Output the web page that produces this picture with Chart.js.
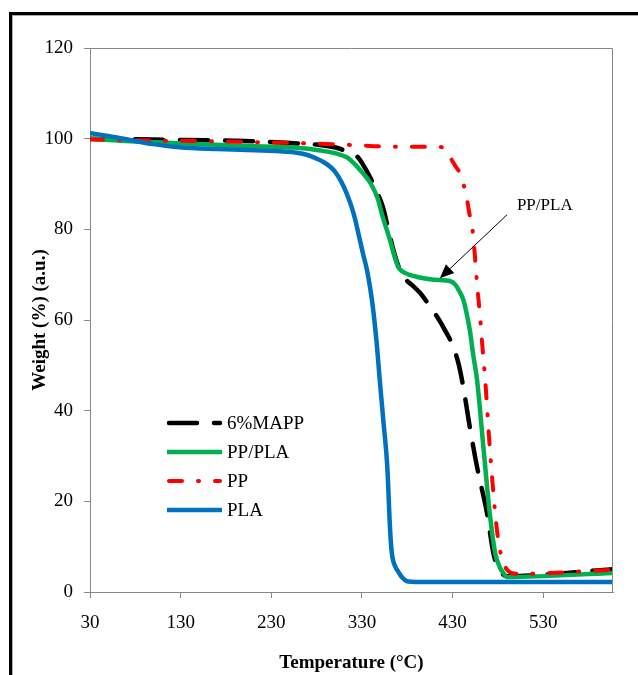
<!DOCTYPE html>
<html>
<head>
<meta charset="utf-8">
<script src="https://cdn.jsdelivr.net/npm/chart.js@4/dist/chart.umd.min.js"></script>
<style>
  html, body { margin: 0; padding: 0; background: #fff; }
  #wrap { position: relative; width: 638px; height: 675px; overflow: hidden; }
  #frame { position: absolute; left: 9px; top: 12px; width: 700px; height: 700px;
    border-left: 3px solid #000; border-top: 3px solid #000;
    box-shadow: inset 1px 1px 0 #aaa; pointer-events: none; }
</style>
</head>
<body>
<div id="wrap">
  <canvas id="tga" width="638" height="675"></canvas>
  <div id="frame"></div>
</div>
<script>
// TGA curves
const xTicks = [30, 130, 230, 330, 430, 530];

const mappT = [30, 100, 200, 254, 280, 302, 315, 325, 332, 339, 346, 353, 358, 364, 370, 375, 380, 386, 394, 403, 413, 422, 431, 437, 442, 449, 457, 468, 475, 480, 485, 490, 607];
const mappW = [100, 99.8, 99.5, 99, 98.7, 98, 97, 96, 94, 91.5, 88.5, 85, 81, 76, 72, 69.8, 68.6, 67.6, 66, 63.6, 60.7, 57.6, 54, 50, 45, 36.4, 27.6, 17.4, 8.6, 5.5, 4, 3.5, 5];

const blendT = [30, 60, 129, 203, 258, 284, 300, 314, 331, 340, 347, 353, 361, 366, 370, 374, 382, 391, 405, 416, 427, 433, 437, 442, 446, 449, 453, 457, 464, 471, 477, 482, 486, 490, 607];
const blendW = [100, 99.6, 99, 98.4, 98, 97.4, 96.8, 95.8, 92.4, 90, 87, 82.7, 77.6, 74, 71.7, 70.8, 70, 69.5, 69, 68.8, 68.6, 67.8, 66.5, 64.4, 61, 57.8, 52, 46.8, 32, 17.4, 8.6, 5.5, 4.2, 3.3, 4.2];

const ppT = [30, 100, 200, 320, 350, 400, 416, 422, 427, 433, 438, 442, 446, 449, 452, 455, 457, 460, 463, 466, 471, 477, 480, 483, 487, 492, 500, 607];
const ppW = [99.8, 99.6, 99.3, 98.6, 98.3, 98.2, 98.2, 97.5, 96, 94, 92.4, 90, 86.5, 83, 80, 73.2, 68, 61.5, 54, 46.8, 32, 17.4, 12, 8.6, 6, 4.5, 4, 4.9];

const plaT = [30, 50, 74, 100, 129, 170, 203, 240, 258, 270, 280, 288, 295, 300, 305, 310, 314, 318, 322, 326, 331, 336, 341, 346, 350, 354, 358, 361, 363, 367, 370, 374, 381, 390, 607];
const plaW = [101.2, 100.6, 99.7, 98.8, 98.1, 97.7, 97.5, 97.2, 96.9, 96.4, 95.6, 94.8, 93.8, 92.8, 91.3, 89.4, 87.5, 85.3, 82.6, 79.2, 74.8, 70.6, 64.5, 55.5, 46, 37, 27.6, 14, 8.6, 5.5, 4.5, 3.3, 2.3, 2.2, 2.2];

const pts = (t, w) => t.map((v, i) => ({x: v, y: w[i]}));
const serif = 'Liberation Serif';
const axisGrey = '#868686';

const datasets = [
  {label: '6%MAPP', data: pts(mappT, mappW), borderColor: '#000000', borderWidth: 4.5, borderDash: [28, 17], borderCapStyle: 'round', order: 4},
  {label: 'PP/PLA', data: pts(blendT, blendW), borderColor: '#00B050', borderWidth: 4.5, order: 3},
  {label: 'PP', data: pts(ppT, ppW), borderColor: '#FF0000', borderWidth: 4, borderDash: [13, 16, 1, 16], borderCapStyle: 'round', order: 2},
  {label: 'PLA', data: pts(plaT, plaW), borderColor: '#0070C0', borderWidth: 4.5, order: 1}
];

// plot box, legend inside the plot and the arrow note
const extras = {
  id: 'extras',
  afterDatasetsDraw(chart) {
    const {ctx, chartArea: a, scales: {x, y}} = chart;
    ctx.save();
    ctx.strokeStyle = axisGrey;
    ctx.lineWidth = 1;
    ctx.beginPath();
    ctx.moveTo(a.left, a.top + 0.5);
    ctx.lineTo(a.right - 0.5, a.top + 0.5);
    ctx.lineTo(a.right - 0.5, a.bottom);
    ctx.stroke();

    // legend
    const rows = [423, 452, 481, 510];
    chart.data.datasets.forEach((ds, i) => {
      const yy = rows[i];
      ctx.strokeStyle = ds.borderColor;
      ctx.lineWidth = ds.borderWidth;
      ctx.lineCap = ds.borderCapStyle || 'butt';
      ctx.setLineDash(ds.borderDash || []);
      ctx.beginPath();
      ctx.moveTo(ds.borderDash ? 169 : 167, yy);
      ctx.lineTo(ds.borderDash ? 220 : 222, yy);
      ctx.stroke();
      ctx.setLineDash([]);
      ctx.fillStyle = '#000';
      ctx.font = '19px "' + serif + '"';
      ctx.textBaseline = 'middle';
      ctx.textAlign = 'left';
      ctx.fillText(ds.label, 227, yy + 1);
    });

    // annotation arrow
    const x0 = x.getPixelForValue(490), y0 = y.getPixelForValue(83.2);
    const x1 = x.getPixelForValue(416), y1 = y.getPixelForValue(69.2);
    const ang = Math.atan2(y1 - y0, x1 - x0);
    const len = 14, half = 6;
    const bx = x1 - len * Math.cos(ang), by = y1 - len * Math.sin(ang);
    ctx.strokeStyle = '#000';
    ctx.lineWidth = 1;
    ctx.lineCap = 'butt';
    ctx.beginPath();
    ctx.moveTo(x0, y0);
    ctx.lineTo(bx, by);
    ctx.stroke();
    ctx.fillStyle = '#000';
    ctx.beginPath();
    ctx.moveTo(x1, y1);
    ctx.lineTo(bx + half * Math.sin(ang), by - half * Math.cos(ang));
    ctx.lineTo(bx - half * Math.sin(ang), by + half * Math.cos(ang));
    ctx.closePath();
    ctx.fill();
    ctx.font = '17px "' + serif + '"';
    ctx.textBaseline = 'middle';
    ctx.fillText('PP/PLA', x.getPixelForValue(501), y.getPixelForValue(85.2));
    ctx.restore();
  }
};

new Chart(document.getElementById('tga'), {
  type: 'line',
  data: {datasets},
  options: {
    responsive: false,
    animation: false,
    layout: {padding: {top: 48, right: 25, left: 0, bottom: 0}},
    elements: {point: {radius: 0}, line: {cubicInterpolationMode: 'monotone', fill: false}},
    plugins: {legend: {display: false}, tooltip: {enabled: false}},
    scales: {
      x: {
        type: 'linear', min: 30, max: 607,
        afterBuildTicks: s => { s.ticks = xTicks.map(v => ({value: v})); },
        afterFit: s => { s.height = 83; },
        grid: {drawOnChartArea: false, color: axisGrey, tickLength: 6},
        border: {color: axisGrey},
        ticks: {autoSkip: false, maxRotation: 0, color: '#000', padding: 14, font: {family: serif, size: 19}},
        title: {display: true, text: 'Temperature (°C)', color: '#000', padding: {top: 0, bottom: 1},
          font: {family: serif, size: 19, weight: 'bold'}}
      },
      y: {
        min: 0, max: 120,
        afterFit: s => { s.width = 90; },
        grid: {drawOnChartArea: false, color: axisGrey, tickLength: 6},
        border: {color: axisGrey},
        ticks: {stepSize: 20, color: '#000', padding: 11, font: {family: serif, size: 19}},
        title: {display: true, text: 'Weight (%) (a.u.)', color: '#000', padding: {top: 29, bottom: 0},
          font: {family: serif, size: 19, weight: 'bold'}}
      }
    }
  },
  plugins: [extras]
});
</script>
</body>
</html>
